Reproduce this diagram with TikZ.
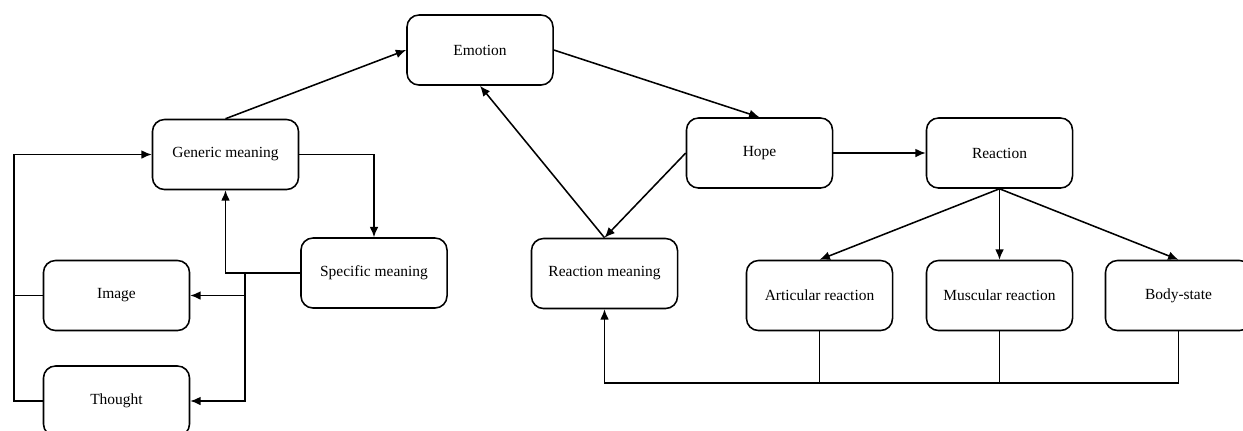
\documentclass[tikz,border=0pt]{standalone}
\usepackage{fontspec}
\setmainfont{Liberation Serif}
\usetikzlibrary{arrows.meta}

\tikzset{
  box/.style={draw, rounded corners=0.3cm, line width=1.1pt,
    minimum width=3.65cm, minimum height=1.75cm,
    font=\fontsize{11}{13}\selectfont},
  arr/.style={-{Latex[length=2.6mm,width=2.2mm]}},
}

\begin{document}
\begin{tikzpicture}[x=0.025cm, y=-0.025cm, line width=1.1pt]
      \clip (0,0) rectangle (1243,430);
      % nodes
      \node[box] (emotion) at (480,50) {Emotion};
      \node[box] (generic) at (225.5,154.5) {Generic meaning};
      \node[box] (specific) at (374,273) {Specific meaning};
      \node[box] (image) at (116.5,295.5) {Image};
      \node[box] (thought) at (116.5,401) {Thought};
      \node[box] (hope) at (759.5,153) {Hope};
      \node[box] (reaction) at (999.5,153) {Reaction};
      \node[box] (rmeaning) at (604.5,273.5) {Reaction meaning};
      \node[box] (articular) at (819.5,295.5) {Articular reaction};
      \node[box] (muscular) at (999.5,295.5) {Muscular reaction};
      \node[box] (bodystate) at (1178.5,295.5) {Body-state};
      \coordinate (split) at (245,273);
      \coordinate (lbus) at (14,0);
      \coordinate (bbus) at (0,383);
      % upper cycle
      \draw[arr] (generic.north) -- (emotion.west);
      \draw[arr] (emotion.east) -- (hope.north);
      \draw[arr] (hope.west) -- (rmeaning.north);
      \draw[arr] (rmeaning.north) -- (emotion.south);
      \draw[arr] (hope) -- (reaction);
      % reactions
      \draw[arr] (reaction.south) -- (articular.north);
      \draw[arr] (reaction.south) -- (muscular.north);
      \draw[arr] (reaction.south) -- (bodystate.north);
      \draw (articular.south) -- (articular.south |- bbus);
      \draw (muscular.south) -- (muscular.south |- bbus);
      \draw[arr] (bodystate.south) -- (bodystate.south |- bbus) -| (rmeaning.south);
      % meanings
      \draw[arr] (generic.east) -| (specific.north);
      \draw[arr] (specific.west) -| (generic.south);
      \draw[arr] (split) |- (image.east);
      \draw[arr] (split) |- (thought.east);
      \draw (image.west) -- (image.west -| lbus);
      \draw[arr] (thought.west) -- (thought.west -| lbus) |- (generic.west);
    \end{tikzpicture}
\end{document}
